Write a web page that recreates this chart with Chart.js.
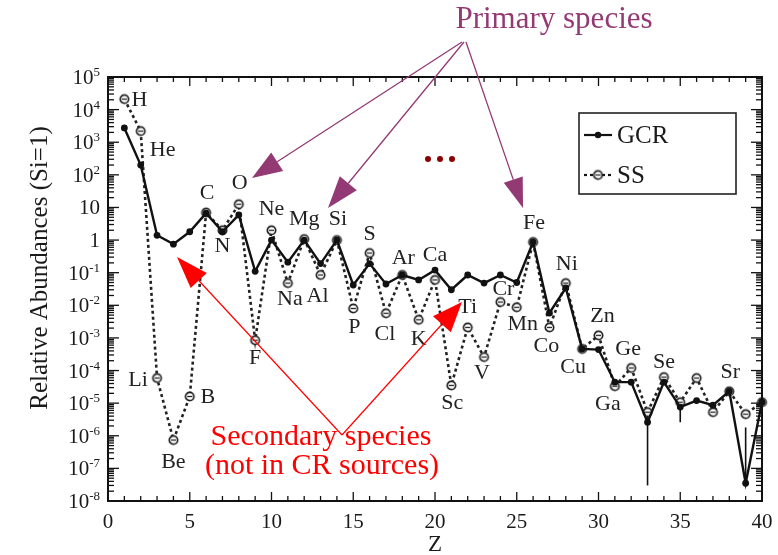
<!DOCTYPE html>
<html>
<head>
<meta charset="utf-8">
<script src="https://cdn.jsdelivr.net/npm/chart.js@4.4.0/dist/chart.umd.min.js"></script>
<style>
html, body { margin: 0; padding: 0; background: #fff; }
#wrap { width: 778px; height: 555px; }
</style>
</head>
<body>
<div id="wrap"><canvas id="abundChart" width="778" height="555"></canvas></div>
<script>
// element symbols, Z = 1..40
const SYMBOLS = ['H','He','Li','Be','B','C','N','O','F','Ne','Na','Mg','Al','Si','P','S','Cl','Ar','K','Ca',
                 'Sc','Ti','V','Cr','Mn','Fe','Co','Ni','Cu','Zn','Ga','Ge','As','Se','Br','Kr','Rb','Sr','Y','Zr'];
// galactic cosmic rays (Si = 1)
const GCR = [2750, 200, 1.4, 0.75, 1.8, 6.7, 1.8, 5.9, 0.11, 1.0, 0.21, 1.0, 0.19, 1.0, 0.042, 0.19, 0.045, 0.085, 0.06, 0.12,
             0.03, 0.085, 0.048, 0.085, 0.05, 0.87, 0.0058, 0.034, 4.6e-4, 4.4e-4, 4.4e-5, 4.4e-5, 2.6e-6, 4.4e-5, 7.6e-6, 1.2e-5, 8.7e-6, 2.3e-5, 3.5e-8, 1.07e-5];
// solar system (Si = 1)
const SS = [2.1e4, 2200, 5.9e-5, 7.4e-7, 1.6e-5, 7.0, 2.0, 12.6, 8.5e-4, 2.0, 0.048, 1.07, 0.085, 1.0, 0.008, 0.4, 0.0057, 0.085, 0.0036, 0.06,
            3.5e-5, 0.0021, 2.6e-4, 0.0126, 0.0087, 0.87, 0.0021, 0.048, 4.6e-4, 1.2e-3, 3.3e-5, 1.2e-4, 5.3e-6, 6.3e-5, 1.07e-5, 5.9e-5, 5.3e-6, 2.3e-5, 4.6e-6, 1.07e-5];
// GCR error bars
const ERR_Z = [33, 35, 39];
const ERR_LO = [3e-8, 2.6e-6, 3.5e-8];
const ERR_HI = [5e-6, 1.2e-5, 1.8e-6];
// axis ticks
const X_TICKS = [0, 5, 10, 15, 20, 25, 30, 35, 40];
const Y_EXPONENTS = [5, 4, 3, 2, 1, 0, -1, -2, -3, -4, -5, -6, -7, -8];

const FONT = '"Liberation Serif", "DejaVu Serif", serif';
const INK = '#1a1a1a';
const PURPLE = '#933a74';

// label offsets (px) relative to the SS point
const LABEL_OFFSETS = {
  H:[15,1], He:[22,19], Li:[-19,2], Be:[0,22], B:[18,1], C:[1,-19], N:[0,16], O:[1,-21], F:[0,18], Ne:[0,-21],
  Na:[2,16], Mg:[0,-20], Al:[-3,21], Si:[1,-21], P:[1,19], S:[0,-19], Cl:[-1,21], Ar:[1,-17], K:[0,19], Ca:[0,-25],
  Sc:[1,18], Ti:[0,-20], V:[-2,16], Cr:[3,-13], Mn:[6,17], Fe:[1,-19], Co:[-3,19], Ni:[1,-19], Cu:[-9,18], Zn:[4,-19],
  Ga:[-7,18], Ge:[-3,-19], Se:[0,-15], Sr:[1,-19]
};

function ssMarker() {
  const c = document.createElement('canvas');
  c.width = 13; c.height = 13;
  const g = c.getContext('2d');
  g.fillStyle = '#fff'; g.strokeStyle = '#222'; g.lineWidth = 1.7;
  g.beginPath(); g.arc(6.5, 6.5, 4.2, 0, Math.PI * 2); g.fill(); g.stroke();
  g.lineWidth = 1.3;
  g.beginPath(); g.moveTo(4, 6.5); g.lineTo(9, 6.5); g.stroke();
  return c;
}
const SS_POINT = ssMarker();

function line(ctx, x1, y1, x2, y2) {
  ctx.beginPath(); ctx.moveTo(x1, y1); ctx.lineTo(x2, y2); ctx.stroke();
}

function arrow(ctx, x1, y1, x2, y2, color, width, headLen, headW) {
  const ang = Math.atan2(y2 - y1, x2 - x1);
  const bx = x2 - headLen * Math.cos(ang), by = y2 - headLen * Math.sin(ang);
  ctx.strokeStyle = color; ctx.fillStyle = color; ctx.lineWidth = width;
  line(ctx, x1, y1, bx, by);
  ctx.beginPath();
  ctx.moveTo(x2, y2);
  ctx.lineTo(bx + headW * Math.sin(ang), by - headW * Math.cos(ang));
  ctx.lineTo(bx - headW * Math.sin(ang), by + headW * Math.cos(ang));
  ctx.closePath(); ctx.fill();
}

const framePlugin = {
  id: 'frame',
  beforeDatasetsDraw(chart) {
    const ctx = chart.ctx, xs = chart.scales.x, ys = chart.scales.y;
    ctx.save();
    ctx.strokeStyle = '#111'; ctx.lineWidth = 1.6;
    ERR_Z.forEach((z, i) => {
      const px = xs.getPixelForValue(z);
      line(ctx, px, ys.getPixelForValue(ERR_LO[i]), px, ys.getPixelForValue(ERR_HI[i]));
    });
    ctx.restore();
  },
  afterDatasetsDraw(chart) {
    const ctx = chart.ctx, a = chart.chartArea, xs = chart.scales.x, ys = chart.scales.y;
    ctx.save();
    // frame
    ctx.strokeStyle = '#111'; ctx.lineWidth = 2;
    ctx.strokeRect(a.left, a.top, a.right - a.left, a.bottom - a.top);
    // x ticks (inward, mirrored)
    ctx.lineWidth = 1.3;
    for (let v = 0; v <= 40; v++) {
      const px = xs.getPixelForValue(v);
      const len = v % 5 === 0 ? 9 : 5;
      line(ctx, px, a.bottom, px, a.bottom - len);
      line(ctx, px, a.top, px, a.top + len);
    }
    // y ticks (log, inward, mirrored)
    Y_EXPONENTS.forEach(e => {
      const py = ys.getPixelForValue(Math.pow(10, e));
      line(ctx, a.left, py, a.left + 11, py);
      line(ctx, a.right, py, a.right - 11, py);
      if (e > -8) {
        for (let m = 2; m <= 9; m++) {
          const pm = ys.getPixelForValue(m * Math.pow(10, e - 1));
          line(ctx, a.left, pm, a.left + 6, pm);
          line(ctx, a.right, pm, a.right - 6, pm);
        }
      }
    });
    // x tick labels
    ctx.fillStyle = INK;
    ctx.font = '21px ' + FONT;
    ctx.textAlign = 'center'; ctx.textBaseline = 'alphabetic';
    X_TICKS.forEach(v => ctx.fillText(String(v), xs.getPixelForValue(v), a.bottom + 27));
    // y tick labels with superscripts
    Y_EXPONENTS.forEach(e => {
      const py = ys.getPixelForValue(Math.pow(10, e));
      const base = e === 0 ? '1' : '10';
      const sup = (e === 0 || e === 1) ? '' : String(e);
      ctx.font = '13px ' + FONT;
      const sw = sup ? ctx.measureText(sup).width : 0;
      ctx.textAlign = 'right';
      const right = a.left - 8;
      if (sup) ctx.fillText(sup, right, py - 1);
      ctx.font = '21px ' + FONT;
      ctx.fillText(base, right - sw, py + 7);
    });
    // axis titles
    ctx.textAlign = 'center';
    ctx.font = '23px ' + FONT;
    ctx.fillText('Z', (a.left + a.right) / 2, a.bottom + 50);
    ctx.save();
    ctx.translate(40, 268);
    ctx.rotate(-Math.PI / 2);
    ctx.textBaseline = 'middle';
    ctx.font = '25px ' + FONT;
    ctx.fillText('Relative Abundances (Si=1)', 0, 0);
    ctx.restore();

    // element labels
    ctx.font = '22px ' + FONT;
    ctx.textAlign = 'center'; ctx.textBaseline = 'middle';
    ctx.fillStyle = '#222';
    SYMBOLS.forEach((s, i) => {
      const off = LABEL_OFFSETS[s];
      if (!off) return;
      const px = xs.getPixelForValue(i + 1), py = ys.getPixelForValue(SS[i]);
      ctx.fillText(s, px + off[0], py + off[1]);
    });

    // legend box
    ctx.strokeStyle = '#222'; ctx.lineWidth = 1.6;
    ctx.strokeRect(579, 113, 157, 81);
    ctx.strokeStyle = '#111'; ctx.lineWidth = 2.2;
    line(ctx, 584, 135, 612, 135);
    ctx.fillStyle = '#111';
    ctx.beginPath(); ctx.arc(598, 135, 3.2, 0, Math.PI * 2); ctx.fill();
    ctx.setLineDash([3, 3]);
    line(ctx, 584, 175, 614, 175);
    ctx.setLineDash([]);
    ctx.drawImage(SS_POINT, 598 - 6.5, 175 - 6.5);
    ctx.fillStyle = INK;
    ctx.font = '25px ' + FONT;
    ctx.textAlign = 'left';
    ctx.fillText('GCR', 617, 136);
    ctx.fillText('SS', 617, 176);

    // "..." marker
    ctx.fillStyle = '#8b0000';
    [428, 440, 452].forEach(x => { ctx.beginPath(); ctx.arc(x, 159, 3, 0, Math.PI * 2); ctx.fill(); });

    // primary species
    ctx.fillStyle = PURPLE;
    ctx.font = '31px ' + FONT;
    ctx.textAlign = 'center';
    ctx.fillText('Primary species', 554, 20);
    arrow(ctx, 462, 42, 252, 178, PURPLE, 1.3, 30, 11);
    arrow(ctx, 464, 42, 328, 208, PURPLE, 1.3, 32, 11);
    arrow(ctx, 466, 42, 523, 208, PURPLE, 1.3, 30, 10);

    // secondary species
    ctx.fillStyle = '#ff0000';
    ctx.font = '30px ' + FONT;
    ctx.fillText('Secondary species', 321, 437);
    ctx.fillText('(not in CR sources)', 322, 466);
    arrow(ctx, 342, 435, 177, 257, '#ff0000', 1.2, 32, 11);
    arrow(ctx, 342, 435, 462, 302, '#ff0000', 1.2, 30, 12);
    ctx.restore();
  }
};

const pts = vals => vals.map((v, i) => ({ x: i + 1, y: v }));

new Chart(document.getElementById('abundChart').getContext('2d'), {
  type: 'line',
  data: {
    datasets: [{
      label: 'GCR',
      data: pts(GCR),
      borderColor: '#111',
      backgroundColor: '#111',
      borderWidth: 2.4,
      pointRadius: 3.4,
      pointBackgroundColor: '#111',
      pointBorderWidth: 0,
      tension: 0,
      clip: 8
    }, {
      label: 'SS',
      data: pts(SS),
      borderColor: '#222',
      borderWidth: 2.6,
      borderDash: [3, 3],
      pointStyle: SS_POINT,
      tension: 0,
      clip: 8
    }]
  },
  options: {
    responsive: false,
    animation: false,
    devicePixelRatio: 1,
    layout: { padding: { left: 108, right: 16, top: 77, bottom: 54 } },
    plugins: { legend: { display: false }, tooltip: { enabled: false } },
    scales: {
      x: { type: 'linear', min: 0, max: 40, display: false },
      y: { type: 'logarithmic', min: 1e-8, max: 1e5, display: false }
    }
  },
  plugins: [framePlugin]
});
</script>
</body>
</html>
